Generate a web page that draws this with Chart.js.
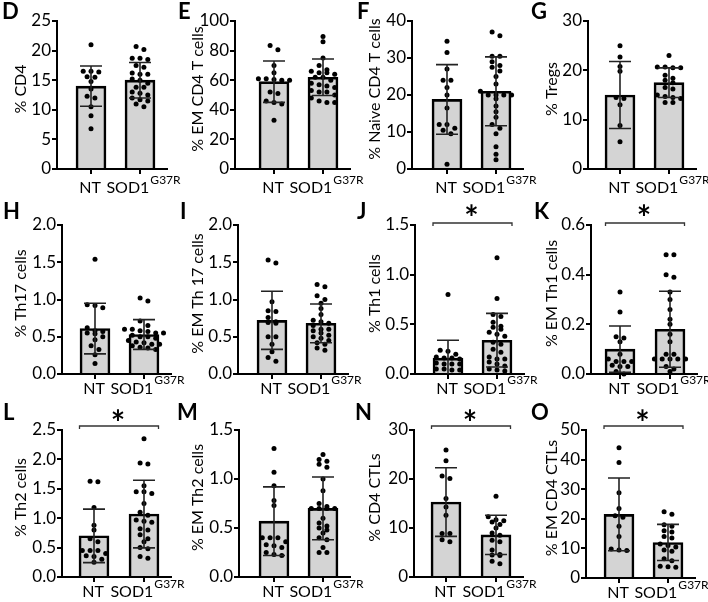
<!DOCTYPE html>
<html><head><meta charset="utf-8">
<script src="https://cdn.jsdelivr.net/npm/chart.js@4.4.1/dist/chart.umd.min.js"></script>
<style>
html,body{margin:0;padding:0;background:#fff;}
#wrap{position:relative;width:708px;height:602px;overflow:hidden;background:#fff;}
#wrap canvas{position:absolute;}
</style></head><body><div id="wrap"></div>
<script>
// ---------------- DATA ----------------
const GROUPS = ['NT', 'SOD1'];
const GENOTYPE_SUP = 'G37R';

const D_TICKS = [0, 5, 10, 15, 20, 25];
const D_NT = [21, 16.5, 16.5, 16.4, 15.6, 15.5, 14.8, 13.5, 12.3, 12, 10.5, 9, 6.8];
const D_SOD1 = [20.7, 20.2, 18.7, 18.7, 18.5, 17.5, 17.2, 16.2, 16.0, 16.0, 15.2, 15.0, 14.5, 13.8, 13.8, 13.0, 12.8, 12.5, 12.0, 11.7, 11.5, 11.0, 10.5];
const D_MEAN = [14.0, 15.0];
const D_SD = [3.4, 3.0];

const E_TICKS = [0, 20, 40, 60, 80, 100];
const E_NT = [83.5, 80.5, 70, 65, 61, 61, 60, 60, 60.5, 52, 51, 46, 45, 44, 33];
const E_SOD1 = [89.5, 86, 75, 70, 67, 66, 65, 65, 64, 62, 62, 60, 58, 57, 56, 55, 53, 52, 52, 50, 48, 46, 45, 45];
const E_MEAN = [59, 62];
const E_SD = [14, 12.3];

const F_TICKS = [0, 10, 20, 30, 40];
const F_NT = [34.5, 31.5, 27, 24, 24, 22, 20, 16.5, 12, 12, 11, 10.5, 9.5, 1.3];
const F_SOD1 = [37, 36, 30.5, 30.5, 29, 28, 27.5, 26.5, 25, 23, 21, 20, 20, 20, 20, 19, 17, 15.5, 14, 12, 11, 9.5, 6, 4, 2.5];
const F_MEAN = [18.8, 21];
const F_SD = [9.4, 9.3];

const G_TICKS = [0, 10, 20, 30];
const G_NT = [25, 22.7, 20.8, 19.8, 14.5, 14.3, 13, 8.8, 5.5];
const G_SOD1 = [23, 20.7, 20.5, 20.5, 20.7, 19, 18.4, 18, 17.5, 16.5, 16.2, 15, 14.7, 14.5, 14.3, 13.5, 13.5];
const G_MEAN = [15, 17.5];
const G_SD = [6.8, 3.0];

const H_TICKS = [0, 0.5, 1.0, 1.5, 2.0];
const H_NT = [1.54, 0.93, 0.92, 0.89, 0.62, 0.58, 0.57, 0.55, 0.54, 0.5, 0.46, 0.38, 0.33, 0.26, 0.14];
const H_SOD1 = [1.02, 0.98, 0.71, 0.65, 0.6, 0.6, 0.58, 0.57, 0.55, 0.55, 0.52, 0.5, 0.5, 0.48, 0.45, 0.43, 0.42, 0.4, 0.4, 0.38, 0.36, 0.35, 0.33];
const H_MEAN = [0.61, 0.53];
const H_SD = [0.34, 0.2];

const I_TICKS = [0, 0.5, 1.0, 1.5, 2.0];
const I_NT = [1.53, 1.49, 0.97, 0.85, 0.84, 0.76, 0.7, 0.69, 0.68, 0.5, 0.5, 0.4, 0.3, 0.22, 0.17];
const I_SOD1 = [1.2, 1.17, 1.05, 1.0, 0.95, 0.88, 0.8, 0.72, 0.7, 0.68, 0.65, 0.6, 0.6, 0.58, 0.55, 0.52, 0.5, 0.48, 0.45, 0.42, 0.4, 0.35, 0.32];
const I_MEAN = [0.72, 0.68];
const I_SD = [0.39, 0.26];

const J_TICKS = [0, 0.5, 1.0, 1.5];
const J_NT = [0.8, 0.24, 0.23, 0.2, 0.17, 0.16, 0.16, 0.15, 0.11, 0.1, 0.1, 0.1, 0.05, 0.05, 0.04, 0.04];
const J_SOD1 = [1.17, 0.76, 0.6, 0.58, 0.52, 0.48, 0.47, 0.45, 0.42, 0.4, 0.38, 0.32, 0.3, 0.25, 0.22, 0.17, 0.15, 0.15, 0.12, 0.1, 0.08, 0.05, 0.04, 0.03];
const J_MEAN = [0.16, 0.34];
const J_SD = [0.18, 0.27];

const K_TICKS = [0, 0.2, 0.4, 0.6];
const K_NT = [0.33, 0.25, 0.15, 0.145, 0.13, 0.08, 0.06, 0.05, 0.05, 0.05, 0.035, 0.03, 0.03, 0.01, 0.0];
const K_SOD1 = [0.48, 0.48, 0.4, 0.39, 0.33, 0.3, 0.26, 0.22, 0.2, 0.16, 0.13, 0.08, 0.08, 0.06, 0.06, 0.06, 0.06, 0.06, 0.03, 0.02, 0.01];
const K_MEAN = [0.1, 0.18];
const K_SD = [0.093, 0.153];

const L_TICKS = [0, 0.5, 1.0, 1.5, 2.0, 2.5];
const L_NT = [1.63, 1.62, 1.18, 0.88, 0.8, 0.65, 0.6, 0.45, 0.45, 0.45, 0.4, 0.36, 0.35, 0.3, 0.25];
const L_SOD1 = [2.35, 1.94, 1.92, 1.55, 1.45, 1.45, 1.42, 1.25, 1.1, 1.05, 0.97, 0.95, 0.93, 0.82, 0.8, 0.72, 0.65, 0.6, 0.5, 0.48, 0.35, 0.32];
const L_MEAN = [0.7, 1.07];
const L_SD = [0.455, 0.575];

const M_TICKS = [0, 0.5, 1.0, 1.5];
const M_NT = [1.31, 1.07, 0.93, 0.78, 0.73, 0.4, 0.4, 0.4, 0.36, 0.33, 0.32, 0.3, 0.25, 0.23, 0.22];
const M_SOD1 = [1.25, 1.2, 1.18, 1.15, 1.12, 1.0, 0.88, 0.75, 0.72, 0.7, 0.7, 0.7, 0.7, 0.6, 0.55, 0.52, 0.5, 0.48, 0.45, 0.4, 0.38, 0.3, 0.25, 0.25];
const M_MEAN = [0.57, 0.7];
const M_SD = [0.35, 0.32];

const N_TICKS = [0, 10, 20, 30];
const N_NT = [25.9, 23.7, 20.6, 20.1, 16, 14.3, 12.6, 8.9, 8.9, 7.6, 7.2];
const N_SOD1 = [16.5, 12.3, 11.7, 11.5, 11.2, 10.7, 10, 9, 8.5, 7.5, 7.2, 5.5, 4.6, 4.5, 4.4, 3.2, 2.7];
const N_MEAN = [15.3, 8.6];
const N_SD = [7.0, 4.0];

const O_TICKS = [0, 10, 20, 30, 40, 50];
const O_NT = [44, 39, 28.8, 23.5, 21, 20.5, 17.5, 14, 9.8, 9.5, 9.3];
const O_SOD1 = [22.4, 21.5, 18, 17.5, 16, 15.5, 14, 13.5, 11.5, 11, 10.5, 9.5, 9, 6.5, 5.8, 4, 3.8, 3.6];
const O_MEAN = [21.5, 12];
const O_SD = [12.3, 6.1];

const PANELS = [
  {key:'D', title:'% CD4', ticks:D_TICKS, dec:0, nt:D_NT, sod:D_SOD1, mean:D_MEAN, sd:D_SD, sig:false},
  {key:'E', title:'% EM CD4 T cells', ticks:E_TICKS, dec:0, nt:E_NT, sod:E_SOD1, mean:E_MEAN, sd:E_SD, sig:false},
  {key:'F', title:'% Naive CD4 T cells', ticks:F_TICKS, dec:0, nt:F_NT, sod:F_SOD1, mean:F_MEAN, sd:F_SD, sig:false},
  {key:'G', title:'% Tregs', ticks:G_TICKS, dec:0, nt:G_NT, sod:G_SOD1, mean:G_MEAN, sd:G_SD, sig:false},
  {key:'H', title:'% Th17 cells', ticks:H_TICKS, dec:1, nt:H_NT, sod:H_SOD1, mean:H_MEAN, sd:H_SD, sig:false},
  {key:'I', title:'% EM Th 17 cells', ticks:I_TICKS, dec:1, nt:I_NT, sod:I_SOD1, mean:I_MEAN, sd:I_SD, sig:false},
  {key:'J', title:'% Th1 cells', ticks:J_TICKS, dec:1, nt:J_NT, sod:J_SOD1, mean:J_MEAN, sd:J_SD, sig:true},
  {key:'K', title:'% EM Th1 cells', ticks:K_TICKS, dec:1, nt:K_NT, sod:K_SOD1, mean:K_MEAN, sd:K_SD, sig:true},
  {key:'L', title:'% Th2 cells', ticks:L_TICKS, dec:1, nt:L_NT, sod:L_SOD1, mean:L_MEAN, sd:L_SD, sig:true},
  {key:'M', title:'% EM Th2 cells', ticks:M_TICKS, dec:1, nt:M_NT, sod:M_SOD1, mean:M_MEAN, sd:M_SD, sig:false},
  {key:'N', title:'% CD4 CTLs', ticks:N_TICKS, dec:0, nt:N_NT, sod:N_SOD1, mean:N_MEAN, sd:N_SD, sig:true},
  {key:'O', title:'% EM CD4 CTLs', ticks:O_TICKS, dec:0, nt:O_NT, sod:O_SOD1, mean:O_MEAN, sd:O_SD, sig:true}
];

// ---------------- LAYOUT (page pixels) ----------------
const COL_X = [0, 177, 354, 531];
const ROW_Y = [0, 200, 400];
const LABEL_OFF = [24, 19.5, 20];
const LETTER_BASE = [19, 19, 20];
const SIG_GAP = [2, 2, 4];
const LAYOUT = {
  D:{col:0,row:0,axis:57, top:21, zero:169,nt:91, sod:140,lx:2},
  E:{col:1,row:0,axis:235,top:21, zero:169,nt:274,sod:323,lx:1},
  F:{col:2,row:0,axis:412,top:21, zero:169,nt:447,sod:496,lx:3},
  G:{col:3,row:0,axis:588,top:21, zero:169,nt:620,sod:669,lx:0},
  H:{col:0,row:1,axis:62, top:225,zero:374,nt:95, sod:144,lx:3},
  I:{col:1,row:1,axis:238,top:225,zero:374,nt:272,sod:321,lx:3},
  J:{col:2,row:1,axis:415,top:225,zero:374,nt:448,sod:497,lx:3},
  K:{col:3,row:1,axis:591,top:225,zero:374,nt:620,sod:670,lx:3},
  L:{col:0,row:2,axis:62, top:430,zero:577,nt:94, sod:144,lx:3},
  M:{col:1,row:2,axis:239,top:430,zero:577,nt:274,sod:323,lx:0},
  N:{col:2,row:2,axis:414,top:430,zero:577,nt:446,sod:496,lx:1},
  O:{col:3,row:2,axis:586,top:430,zero:578,nt:619,sod:668,lx:0}
};
const FONT = 'Lato, "Open Sans", sans-serif';
const SPACING = 7.8, ROW_TOL = 4.5;

function swarm(vals, ppu, xppu) {
  const idx = vals.map((v, i) => i).sort((a, b) => vals[b] - vals[a]);
  const off = new Array(vals.length).fill(0);
  let row = [], start = null;
  const flush = () => { const n = row.length; row.forEach((id, k) => { off[id] = (k - (n - 1) / 2) * SPACING / xppu; }); };
  idx.forEach(id => {
    if (start !== null && (start - vals[id]) * ppu < ROW_TOL) row.push(id);
    else { if (row.length) flush(); row = [id]; start = vals[id]; }
  });
  if (row.length) flush();
  return off;
}

const wrap = document.getElementById('wrap');
PANELS.forEach(p => {
  const Lp = LAYOUT[p.key];
  const ox = COL_X[Lp.col], oy = ROW_Y[Lp.row];
  const W = 200, H = 202;
  const cv = document.createElement('canvas');
  cv.width = W; cv.height = H;
  cv.style.left = ox + 'px'; cv.style.top = oy + 'px';
  cv.style.width = W + 'px'; cv.style.height = H + 'px';
  wrap.appendChild(cv);
  const left = Lp.axis - ox, top = Lp.top - oy, bottom = Lp.zero - oy;
  const ntx = Lp.nt - ox, sodx = Lp.sod - ox, right = sodx + 27;
  const xppu = sodx - ntx;
  const xmin = -(ntx - left) / xppu, xmax = (right - ntx) / xppu;
  const ymax = p.ticks[p.ticks.length - 1];
  const ppu = (bottom - top) / ymax;
  const o1 = swarm(p.nt, ppu, xppu), o2 = swarm(p.sod, ppu, xppu);
  const pts = p.nt.map((v, i) => ({x: 0 + o1[i], y: v})).concat(p.sod.map((v, i) => ({x: 1 + o2[i], y: v})));
  const row = Lp.row;

  const deco = {
    id: 'deco',
    afterDatasetsDraw(chart) {
      const ctx = chart.ctx, xs = chart.scales.x, ys = chart.scales.y;
      ctx.save();
      ctx.strokeStyle = '#222'; ctx.lineWidth = 1.6;
      [0, 1].forEach(i => {
        const cx = xs.getPixelForValue(i);
        const hiV = p.mean[i] + p.sd[i], loV = p.mean[i] - p.sd[i];
        const hi = ys.getPixelForValue(hiV);
        const lo = ys.getPixelForValue(Math.max(0, loV));
        ctx.beginPath();
        ctx.moveTo(cx, hi); ctx.lineTo(cx, lo);
        ctx.moveTo(cx - 11, hi); ctx.lineTo(cx + 11, hi);
        if (loV > 0) { ctx.moveTo(cx - 11, lo); ctx.lineTo(cx + 11, lo); }
        ctx.stroke();
      });
      ctx.restore();
    },
    afterDraw(chart) {
      const ctx = chart.ctx, xs = chart.scales.x;
      const ca = chart.chartArea;
      ctx.save();
      ctx.fillStyle = '#000';
      // panel letter
      ctx.font = 'bold 22px ' + FONT;
      ctx.textAlign = 'left'; ctx.textBaseline = 'alphabetic';
      ctx.fillText(p.key, Lp.lx, LETTER_BASE[row]);
      // y title
      ctx.save();
      ctx.translate(20.5, (ca.top + ca.bottom) / 2 - 6);
      ctx.rotate(-Math.PI / 2);
      ctx.font = '16px ' + FONT;
      ctx.textAlign = 'center'; ctx.textBaseline = 'middle';
      ctx.fillText(p.title, 0, 0);
      ctx.restore();
      // x labels
      const by = ca.bottom + LABEL_OFF[row];
      const x0 = xs.getPixelForValue(0), x1 = xs.getPixelForValue(1);
      ctx.font = '16px ' + FONT;
      ctx.textAlign = 'center';
      ctx.fillText(GROUPS[0], x0 - 1, by);
      const w1 = ctx.measureText(GROUPS[1]).width;
      ctx.font = '12px ' + FONT;
      const w2 = ctx.measureText(GENOTYPE_SUP).width;
      const sx = x1 - (w1 + w2 + 1) / 2 + 3.5;
      ctx.textAlign = 'left';
      ctx.font = '16px ' + FONT;
      ctx.fillText(GROUPS[1], sx, by);
      ctx.font = '12px ' + FONT;
      ctx.fillText(GENOTYPE_SUP, sx + w1 + 1, by - 9.5);
      // significance
      if (p.sig) {
        const mid = (x0 + x1) / 2;
        const sy = ca.top - SIG_GAP[row];
        ctx.strokeStyle = '#333'; ctx.lineWidth = 1.3;
        ctx.beginPath();
        ctx.moveTo(mid - 39.5, sy + 3); ctx.lineTo(mid - 39.5, sy);
        ctx.lineTo(mid + 39.5, sy); ctx.lineTo(mid + 39.5, sy + 3);
        ctx.stroke();
        ctx.font = 'bold 34px ' + FONT;
        ctx.textAlign = 'center'; ctx.textBaseline = 'alphabetic';
        ctx.fillText('*', mid - 1, ca.top + 5);
      }
      ctx.restore();
    }
  };

  new Chart(cv, {
    type: 'bar',
    data: {
      datasets: [
        {type: 'bar', data: [{x: 0, y: p.mean[0]}, {x: 1, y: p.mean[1]}],
         backgroundColor: '#d4d4d4', borderColor: '#000', borderWidth: 2.6,
         borderSkipped: 'start', barThickness: 30, order: 2},
        {type: 'scatter', data: pts, pointRadius: 2.5, pointBackgroundColor: '#000',
         pointBorderWidth: 0, pointHoverRadius: 2.5, clip: false, order: 1}
      ]
    },
    options: {
      responsive: false, animation: false, devicePixelRatio: 1,
      events: [],
      layout: {padding: {left: 0, top: top, right: W - right, bottom: 0}},
      plugins: {legend: {display: false}, tooltip: {enabled: false}},
      scales: {
        x: {
          type: 'linear', min: xmin, max: xmax, offset: false,
          afterBuildTicks: s => { s.ticks = [{value: 0}, {value: 1}]; },
          afterFit: s => { s.height = H - bottom; },
          ticks: {display: false},
          grid: {display: true, offset: false, drawOnChartArea: false, drawTicks: true, tickLength: 5, color: '#000', lineWidth: 2},
          border: {display: true, color: '#000', width: 2}
        },
        y: {
          min: 0, max: ymax,
          afterBuildTicks: s => { s.ticks = p.ticks.map(v => ({value: v})); },
          afterFit: s => { s.width = left; },
          ticks: {color: '#000', padding: 1, font: {family: FONT, size: 17},
                  callback: v => Number(v).toFixed(p.dec)},
          grid: {display: true, drawOnChartArea: false, drawTicks: true, tickLength: 5, color: '#000', lineWidth: 2},
          border: {display: true, color: '#000', width: 2}
        }
      }
    },
    plugins: [deco]
  });
});
</script>
</body></html>
